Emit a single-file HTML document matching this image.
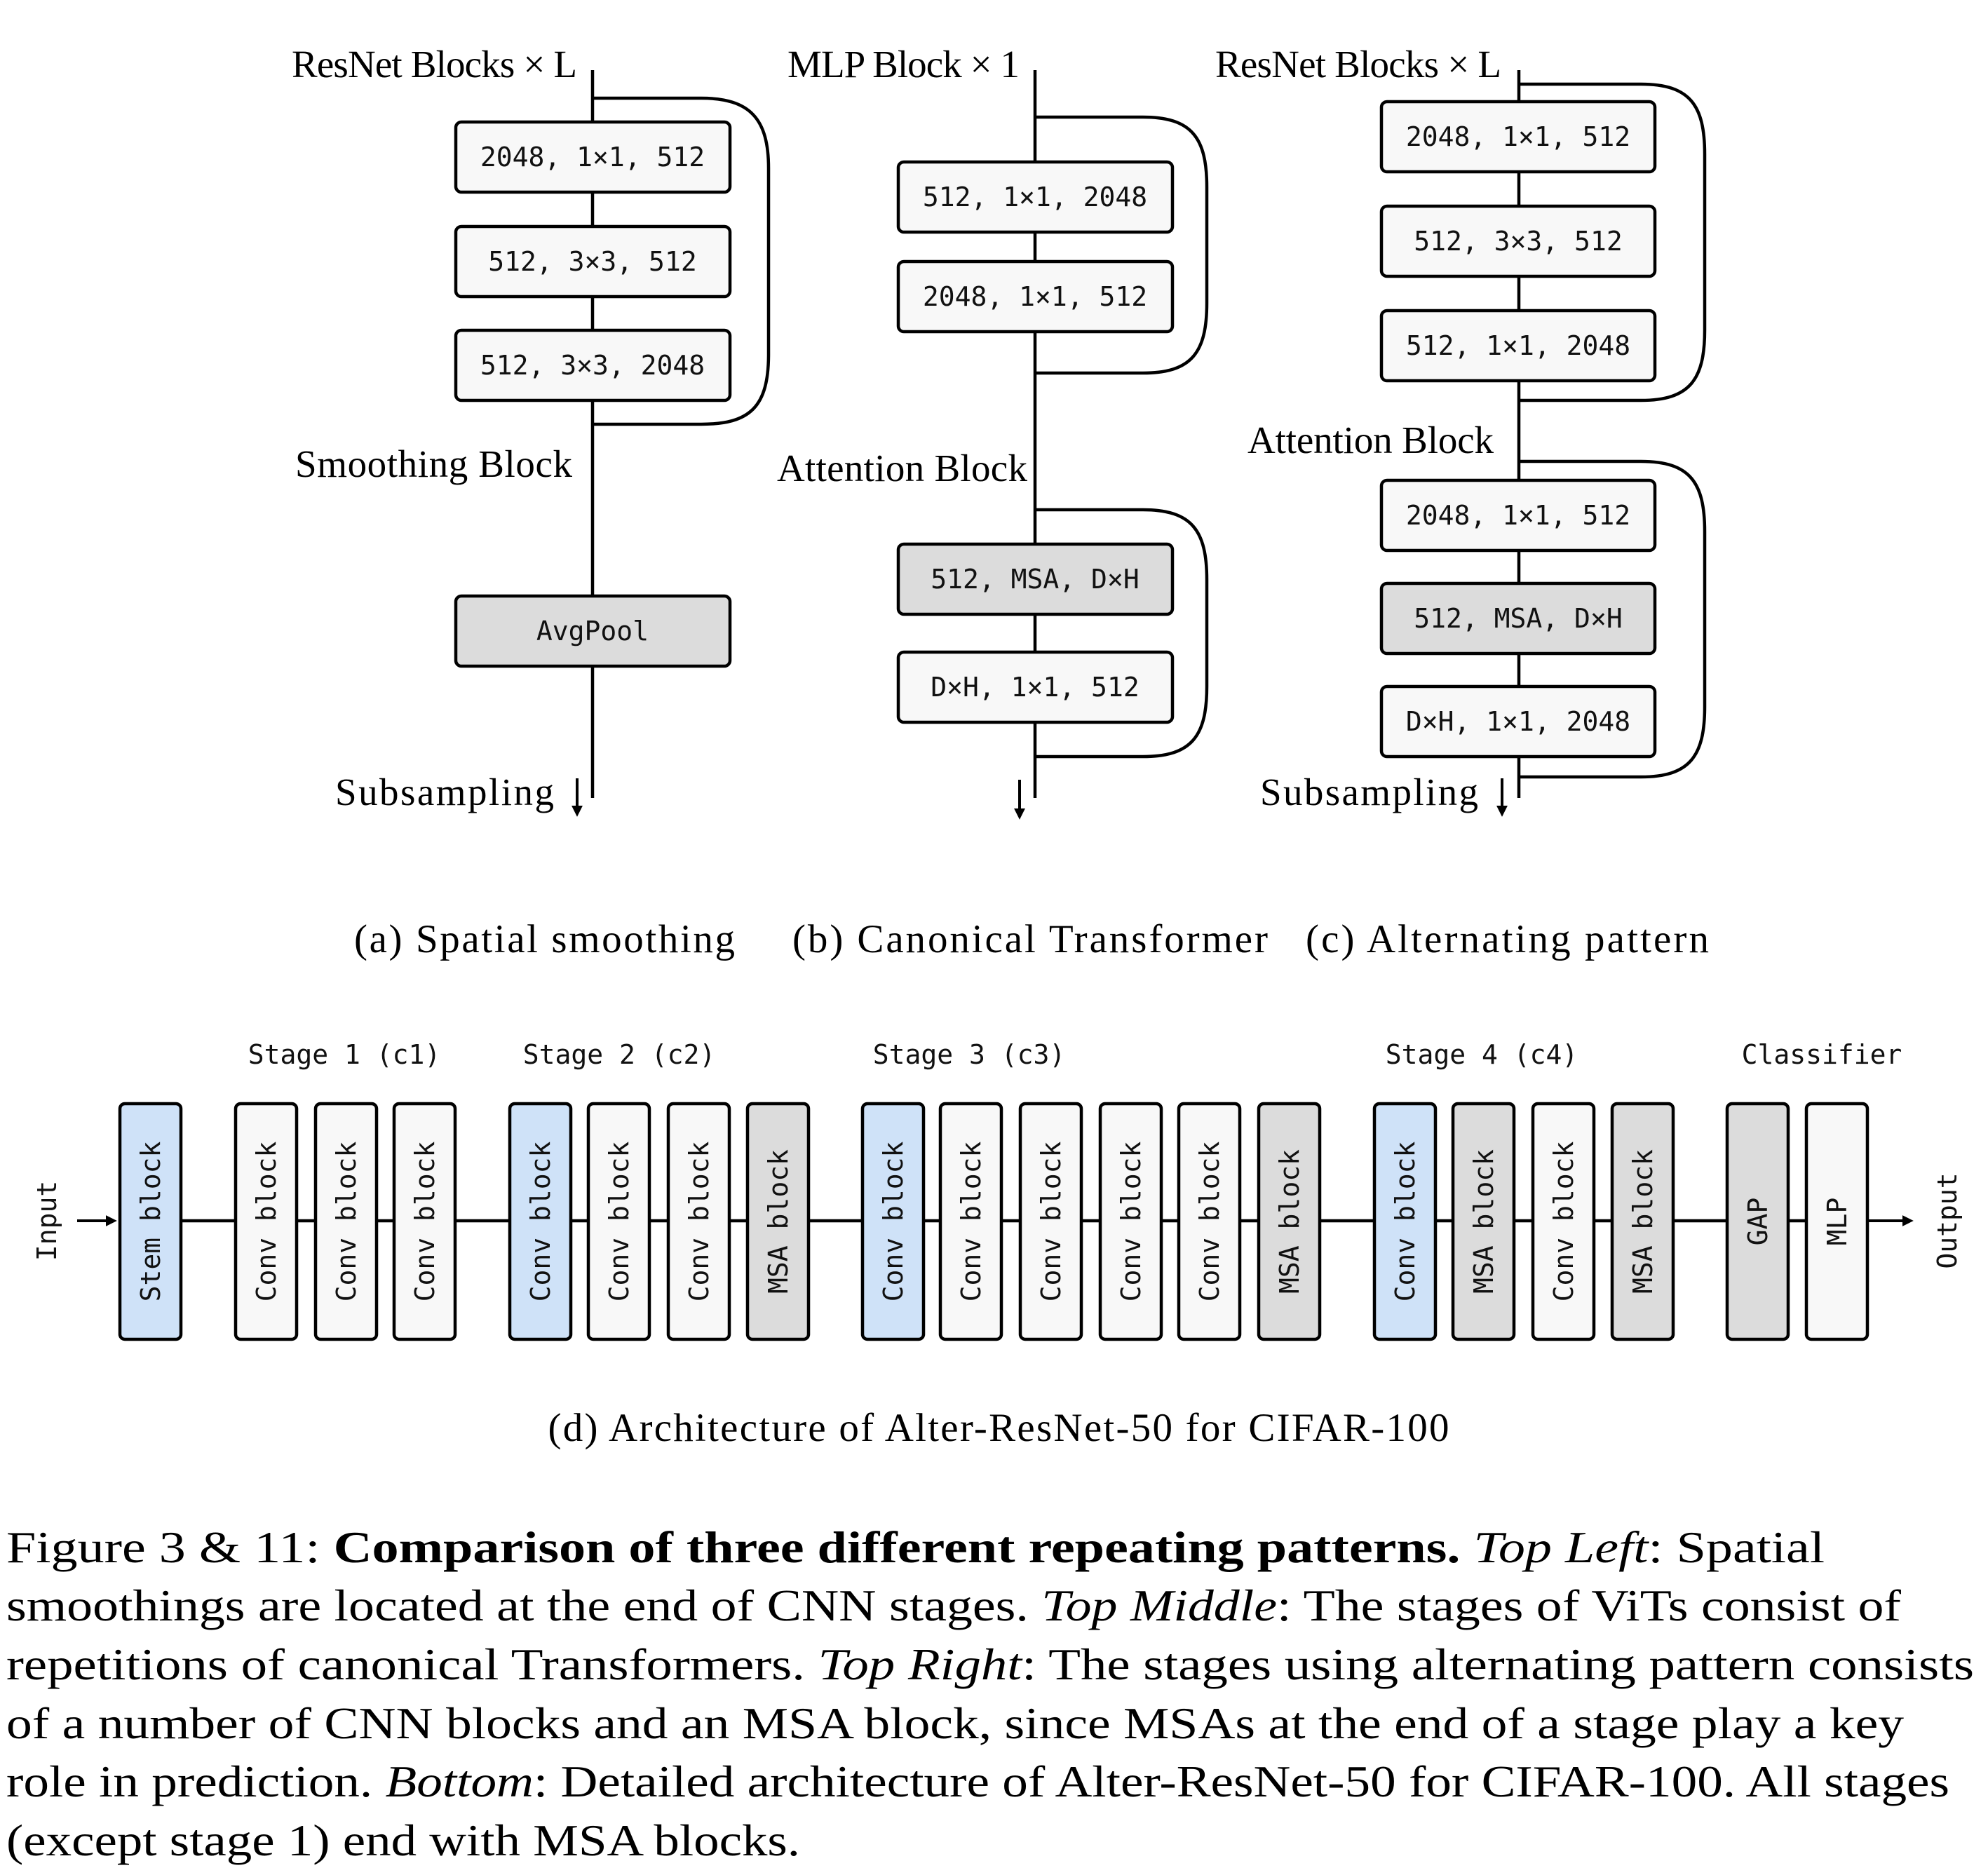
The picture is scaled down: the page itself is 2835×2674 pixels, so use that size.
<!DOCTYPE html>
<html><head><meta charset="utf-8"><style>html,body{margin:0;padding:0;background:#fff}svg{display:block}</style></head><body>
<svg width="2835" height="2674" viewBox="0 0 2835 2674" xmlns="http://www.w3.org/2000/svg">
<defs>
<marker id="ah" markerWidth="16" markerHeight="16" refX="8" refY="7" orient="auto" markerUnits="userSpaceOnUse" viewBox="0 0 14 14"><path d="M0,0 L14,7 L0,14 z" fill="#000"/></marker>
</defs>
<style>
.ln{stroke:#000;stroke-width:4.5;fill:none}
.bx{stroke:#000;stroke-width:4.5}
.w{fill:#f8f8f8}.g{fill:#dcdcdc}.b{fill:#cfe2f8}
.m{font-family:"DejaVu Sans Mono","Liberation Mono",monospace;font-size:38px;fill:#111}
.s{font-family:"Liberation Serif",serif;font-size:55px;fill:#000}
.c{font-family:"Liberation Serif",serif;font-size:57px;fill:#000}
.f{font-family:"Liberation Serif",serif;font-size:64px;fill:#000}
</style>

<!-- (a) -->
<line class="ln" x1="845" y1="100" x2="845" y2="1138"/>
<path class="ln" d="M845,140 H1000 C1070,140 1096,170 1096,240 V505 C1096,580 1070,605 1000,605 H845"/>
<rect class="bx w" x="650" y="174" width="391" height="100" rx="8"/>
<rect class="bx w" x="650" y="323" width="391" height="100" rx="8"/>
<rect class="bx w" x="650" y="471" width="391" height="100" rx="8"/>
<rect class="bx g" x="650" y="850" width="391" height="100" rx="8"/>
<text class="m" x="845" y="237" text-anchor="middle">2048, 1×1, 512</text>
<text class="m" x="845" y="386" text-anchor="middle">512, 3×3, 512</text>
<text class="m" x="845" y="534" text-anchor="middle">512, 3×3, 2048</text>
<text class="m" x="845" y="913" text-anchor="middle">AvgPool</text>
<text class="s" x="823" y="110" text-anchor="end" textLength="407">ResNet Blocks × L</text>
<text class="s" x="816" y="680" text-anchor="end" textLength="395">Smoothing Block</text>
<text class="s" x="790" y="1148" text-anchor="end" textLength="312">Subsampling</text>
<line x1="823" y1="1110" x2="823" y2="1158" stroke="#000" stroke-width="4" marker-end="url(#ah)"/>

<!-- (b) -->
<line class="ln" x1="1476" y1="100" x2="1476" y2="1138"/>
<path class="ln" d="M1476,167 H1630 C1700,167 1721,197 1721,267 V432 C1721,502 1700,532 1630,532 H1476"/>
<path class="ln" d="M1476,727 H1630 C1700,727 1721,757 1721,827 V979 C1721,1049 1700,1079 1630,1079 H1476"/>
<rect class="bx w" x="1281" y="231" width="391" height="100" rx="8"/>
<rect class="bx w" x="1281" y="373" width="391" height="100" rx="8"/>
<rect class="bx g" x="1281" y="776" width="391" height="100" rx="8"/>
<rect class="bx w" x="1281" y="930" width="391" height="100" rx="8"/>
<text class="m" x="1476" y="294" text-anchor="middle">512, 1×1, 2048</text>
<text class="m" x="1476" y="436" text-anchor="middle">2048, 1×1, 512</text>
<text class="m" x="1476" y="839" text-anchor="middle">512, MSA, D×H</text>
<text class="m" x="1476" y="993" text-anchor="middle">D×H, 1×1, 512</text>
<text class="s" x="1454" y="110" text-anchor="end" textLength="331">MLP Block × 1</text>
<text class="s" x="1465" y="686" text-anchor="end" textLength="357">Attention Block</text>
<line x1="1454" y1="1112" x2="1454" y2="1162" stroke="#000" stroke-width="4" marker-end="url(#ah)"/>

<!-- (c) -->
<line class="ln" x1="2166" y1="100" x2="2166" y2="1138"/>
<path class="ln" d="M2166,120 H2340 C2410,120 2431,150 2431,220 V471 C2431,541 2410,571 2340,571 H2166"/>
<path class="ln" d="M2166,658 H2340 C2410,658 2431,688 2431,758 V1008 C2431,1078 2410,1108 2340,1108 H2166"/>
<rect class="bx w" x="1970" y="145" width="390" height="100" rx="8"/>
<rect class="bx w" x="1970" y="294" width="390" height="100" rx="8"/>
<rect class="bx w" x="1970" y="443" width="390" height="100" rx="8"/>
<rect class="bx w" x="1970" y="685" width="390" height="100" rx="8"/>
<rect class="bx g" x="1970" y="832" width="390" height="100" rx="8"/>
<rect class="bx w" x="1970" y="979" width="390" height="100" rx="8"/>
<text class="m" x="2165" y="208" text-anchor="middle">2048, 1×1, 512</text>
<text class="m" x="2165" y="357" text-anchor="middle">512, 3×3, 512</text>
<text class="m" x="2165" y="506" text-anchor="middle">512, 1×1, 2048</text>
<text class="m" x="2165" y="748" text-anchor="middle">2048, 1×1, 512</text>
<text class="m" x="2165" y="895" text-anchor="middle">512, MSA, D×H</text>
<text class="m" x="2165" y="1042" text-anchor="middle">D×H, 1×1, 2048</text>
<text class="s" x="2141" y="110" text-anchor="end" textLength="408">ResNet Blocks × L</text>
<text class="s" x="2130" y="646" text-anchor="end" textLength="351">Attention Block</text>
<text class="s" x="2108" y="1148" text-anchor="end" textLength="311">Subsampling</text>
<line x1="2142" y1="1110" x2="2142" y2="1158" stroke="#000" stroke-width="4" marker-end="url(#ah)"/>

<!-- captions -->
<text class="c" x="505" y="1358" textLength="543">(a) Spatial smoothing</text>
<text class="c" x="1130" y="1358" textLength="678">(b) Canonical Transformer</text>
<text class="c" x="1862" y="1358" textLength="575">(c) Alternating pattern</text>

<!-- (d) -->
<g transform="translate(0,-7)">
<line class="ln" x1="258" y1="1748" x2="2660" y2="1748"/>
<line x1="110" y1="1748" x2="160" y2="1748" stroke="#000" stroke-width="4" marker-end="url(#ah)"/>
<line x1="2663" y1="1748" x2="2722" y2="1748" stroke="#000" stroke-width="4" marker-end="url(#ah)"/>
<text class="m" transform="translate(80,1748) rotate(-90)" text-anchor="middle">Input</text>
<text class="m" transform="translate(2790,1748) rotate(-90)" text-anchor="middle">Output</text>

<g class="m" text-anchor="middle">
<text x="491" y="1524">Stage 1 (c1)</text>
<text x="883" y="1524">Stage 2 (c2)</text>
<text x="1382" y="1524">Stage 3 (c3)</text>
<text x="2113" y="1524">Stage 4 (c4)</text>
<text x="2598" y="1524">Classifier</text>
</g>

<g>
<rect class="bx b" x="171" y="1581" width="87" height="336" rx="7"/>
<rect class="bx w" x="336" y="1581" width="87" height="336" rx="7"/>
<rect class="bx w" x="450" y="1581" width="87" height="336" rx="7"/>
<rect class="bx w" x="562" y="1581" width="87" height="336" rx="7"/>
<rect class="bx b" x="727" y="1581" width="87" height="336" rx="7"/>
<rect class="bx w" x="839" y="1581" width="87" height="336" rx="7"/>
<rect class="bx w" x="953" y="1581" width="87" height="336" rx="7"/>
<rect class="bx g" x="1066" y="1581" width="87" height="336" rx="7"/>
<rect class="bx b" x="1230" y="1581" width="87" height="336" rx="7"/>
<rect class="bx w" x="1341" y="1581" width="87" height="336" rx="7"/>
<rect class="bx w" x="1455" y="1581" width="87" height="336" rx="7"/>
<rect class="bx w" x="1569" y="1581" width="87" height="336" rx="7"/>
<rect class="bx w" x="1681" y="1581" width="87" height="336" rx="7"/>
<rect class="bx g" x="1795" y="1581" width="87" height="336" rx="7"/>
<rect class="bx b" x="1960" y="1581" width="87" height="336" rx="7"/>
<rect class="bx g" x="2072" y="1581" width="87" height="336" rx="7"/>
<rect class="bx w" x="2186" y="1581" width="87" height="336" rx="7"/>
<rect class="bx g" x="2299" y="1581" width="87" height="336" rx="7"/>
<rect class="bx g" x="2463" y="1581" width="87" height="336" rx="7"/>
<rect class="bx w" x="2576" y="1581" width="87" height="336" rx="7"/>
</g>
<g class="m" text-anchor="middle">
<text transform="translate(228,1749) rotate(-90)">Stem block</text>
<text transform="translate(393,1749) rotate(-90)">Conv block</text>
<text transform="translate(507,1749) rotate(-90)">Conv block</text>
<text transform="translate(619,1749) rotate(-90)">Conv block</text>
<text transform="translate(784,1749) rotate(-90)">Conv block</text>
<text transform="translate(896,1749) rotate(-90)">Conv block</text>
<text transform="translate(1010,1749) rotate(-90)">Conv block</text>
<text transform="translate(1123,1749) rotate(-90)">MSA block</text>
<text transform="translate(1287,1749) rotate(-90)">Conv block</text>
<text transform="translate(1398,1749) rotate(-90)">Conv block</text>
<text transform="translate(1512,1749) rotate(-90)">Conv block</text>
<text transform="translate(1626,1749) rotate(-90)">Conv block</text>
<text transform="translate(1738,1749) rotate(-90)">Conv block</text>
<text transform="translate(1852,1749) rotate(-90)">MSA block</text>
<text transform="translate(2017,1749) rotate(-90)">Conv block</text>
<text transform="translate(2129,1749) rotate(-90)">MSA block</text>
<text transform="translate(2243,1749) rotate(-90)">Conv block</text>
<text transform="translate(2356,1749) rotate(-90)">MSA block</text>
<text transform="translate(2520,1749) rotate(-90)">GAP</text>
<text transform="translate(2633,1749) rotate(-90)">MLP</text>
</g>
</g>

<text class="c" x="1424" y="2055" text-anchor="middle" textLength="1285">(d) Architecture of Alter-ResNet-50 for CIFAR-100</text>

<!-- figure caption -->
<text class="f" x="9" y="2228" textLength="2593" lengthAdjust="spacingAndGlyphs">Figure 3 &amp; 11:  <tspan font-weight="bold">Comparison of three different repeating patterns.</tspan> <tspan font-style="italic">Top Left</tspan>: Spatial</text>
<text class="f" x="9" y="2311" textLength="2702" lengthAdjust="spacingAndGlyphs">smoothings are located at the end of CNN stages. <tspan font-style="italic">Top Middle</tspan>: The stages of ViTs consist of</text>
<text class="f" x="9" y="2395" textLength="2806" lengthAdjust="spacingAndGlyphs">repetitions of canonical Transformers. <tspan font-style="italic">Top Right</tspan>: The stages using alternating pattern consists</text>
<text class="f" x="9" y="2479" textLength="2706" lengthAdjust="spacingAndGlyphs">of a number of CNN blocks and an MSA block, since MSAs at the end of a stage play a key</text>
<text class="f" x="9" y="2562" textLength="2771" lengthAdjust="spacingAndGlyphs">role in prediction. <tspan font-style="italic">Bottom</tspan>: Detailed architecture of Alter-ResNet-50 for CIFAR-100. All stages</text>
<text class="f" x="9" y="2646" textLength="1132" lengthAdjust="spacingAndGlyphs">(except stage 1) end with MSA blocks.</text>
</svg>
</body></html>
